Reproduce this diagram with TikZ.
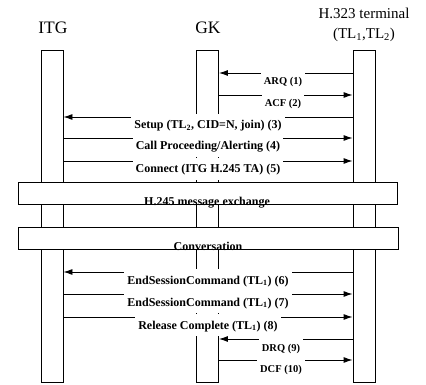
\documentclass[tikz,border=0pt]{standalone}
\usepackage{fontspec}
\setmainfont{Liberation Serif}
\usetikzlibrary{arrows.meta}
\begin{document}
\begin{tikzpicture}[x=1pt,y=-1pt,
  life/.style={draw, line width=0.9pt, minimum width=22pt, minimum height=332pt, inner sep=0pt, fill=white},
  band/.style={draw, line width=0.9pt, fill=white, minimum height=22pt, inner sep=0pt},
  bandtext/.style={anchor=base, inner sep=0pt, font=\bfseries\fontsize{12}{12}\selectfont},
  msg/.style={line width=0.9pt, -{Latex[length=9pt,width=6pt]}},
  lab/.style={fill=white, inner xsep=3pt, inner ysep=0pt, anchor=base, text height=15pt, text depth=7pt, font=\bfseries\fontsize{12}{12}\selectfont},
  slab/.style={lab, font=\bfseries\fontsize{10.5}{10.5}\selectfont},
  head/.style={font=\fontsize{17.5}{20}\selectfont, align=center, inner sep=0pt},
  thead/.style={font=\fontsize{15}{20}\selectfont, align=center, inner sep=0pt}]
\useasboundingbox[fill=white] (0,0) rectangle (426,385);
% headers
\node[head] (hitg) at (53,28) {ITG};
\node[head] (hgk) at (208,28) {GK};
\node[thead] (hterm) at (364,25) {H.323 terminal\\(TL\textsubscript{1},TL\textsubscript{2})};
% lifelines
\node[life] (itg) at (52,216) {};
\node[life] (gk) at (207.5,216) {};
\node[life] (h323) at (364,216) {};
% bands
\node[band, minimum width=379pt] (h245) at (207.5,193.5) {};
\node[band, minimum width=380pt] (conv) at (208,238) {};
\node[bandtext] (h245t) at (207,206) {H.245 message exchange};
\node[bandtext] (convt) at (208,250) {Conversation};
% messages
\draw[msg] (h323.west |- 0,73) -- (gk.east |- 0,73);
\draw[msg] (gk.east |- 0,95) -- (h323.west |- 0,95);
\draw[msg] (h323.west |- 0,117) -- (itg.east |- 0,117);
\draw[msg] (itg.east |- 0,138) -- (h323.west |- 0,138);
\draw[msg] (itg.east |- 0,161) -- (h323.west |- 0,161);
\draw[msg] (h323.west |- 0,272) -- (itg.east |- 0,272);
\draw[msg] (itg.east |- 0,294) -- (h323.west |- 0,294);
\draw[msg] (itg.east |- 0,317) -- (h323.west |- 0,317);
\draw[msg] (h323.west |- 0,339) -- (gk.east |- 0,339);
\draw[msg] (gk.east |- 0,360) -- (h323.west |- 0,360);
% labels
\node[slab] (l1) at (283,85) {ARQ (1)};
\node[slab] (l2) at (283,107) {ACF (2)};
\node[lab] (l3) at (208,129) {Setup (TL\textsubscript{2}, CID=N, join) (3)};
\node[lab] (l4) at (208,150) {Call Proceeding/Alerting (4)};
\node[lab] (l5) at (208,173) {Connect (ITG H.245 TA) (5)};
\node[lab] (l6) at (208,284) {EndSessionCommand (TL\textsubscript{1}) (6)};
\node[lab] (l7) at (208,306) {EndSessionCommand (TL\textsubscript{1}) (7)};
\node[lab] (l8) at (208,329) {Release Complete (TL\textsubscript{1}) (8)};
\node[slab] (l9) at (281,351) {DRQ (9)};
\node[slab] (l10) at (281,372) {DCF (10)};
\end{tikzpicture}
\end{document}
